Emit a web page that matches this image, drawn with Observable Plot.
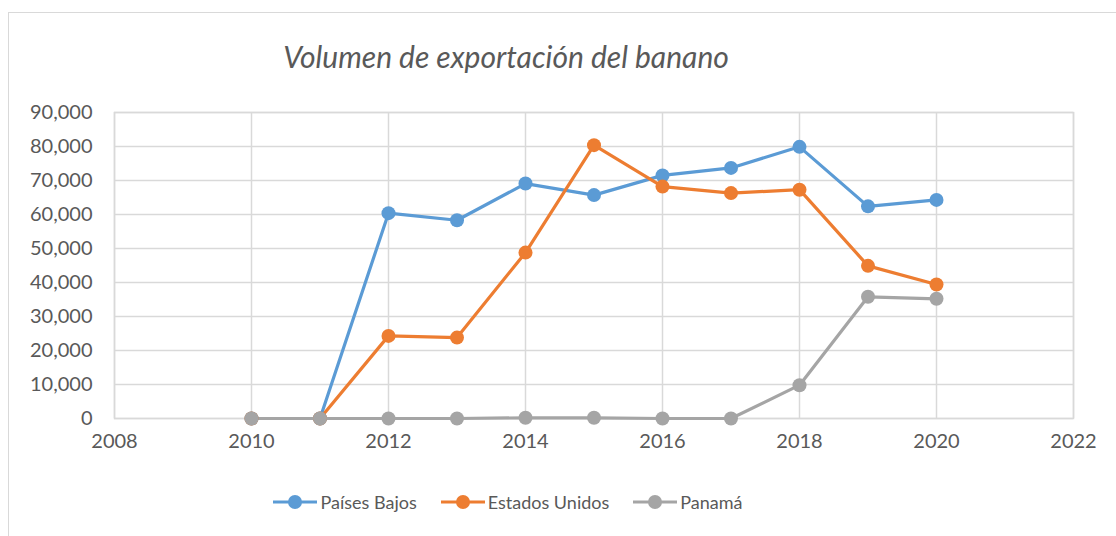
<!DOCTYPE html>
<html><head><meta charset="utf-8">
<script src="https://cdn.jsdelivr.net/npm/d3@7"></script>
<script src="https://cdn.jsdelivr.net/npm/@observablehq/plot@0.6"></script>
<style>
body{margin:0;background:#fff;font-family:Lato,"Open Sans",sans-serif;}
#wrap{position:relative;width:1116px;height:536px;overflow:hidden;}
#frame{position:absolute;left:8px;top:12px;width:1200px;height:600px;border:1px solid #d9d9d9;box-sizing:border-box;}
#title{position:absolute;left:0;width:1012px;top:38px;text-align:center;font-style:italic;font-size:30px;color:#595959;}
#chart{position:absolute;left:0;top:90px;}
#legend{position:absolute;left:0;width:1016px;top:491px;display:flex;justify-content:center;gap:24px;font-size:18px;color:#595959;}
#legend span.item{display:flex;align-items:center;gap:3px;}
</style></head>
<body><div id="wrap"><div id="frame"></div><div id="title">Volumen de exportación del banano</div><div id="chart"></div><div id="legend"></div></div>
<script>
const years = [2010, 2011, 2012, 2013, 2014, 2015, 2016, 2017, 2018, 2019, 2020];
const series = ["Países Bajos", "Estados Unidos", "Panamá"];
const paisesBajos = [0, 0, 60400, 58300, 69100, 65700, 71500, 73700, 79900, 62400, 64300];
const estadosUnidos = [0, 0, 24300, 23800, 48800, 80400, 68200, 66300, 67300, 44900, 39400];
const panama = [0, 0, 0, 0, 200, 200, 0, 0, 9800, 35800, 35200];
const colors = ["#5B9BD5", "#ED7D31", "#A5A5A5"];
const xTicks = [2008, 2010, 2012, 2014, 2016, 2018, 2020, 2022];
const yTicks = [0, 10000, 20000, 30000, 40000, 50000, 60000, 70000, 80000, 90000];

const valuesBySeries = [paisesBajos, estadosUnidos, panama];
const data = [];
series.forEach((s, i) => years.forEach((y, j) => data.push({series: s, year: y, value: valuesBySeries[i][j]})));

const chart = Plot.plot({
  width: 1116, height: 370,
  marginLeft: 114, marginRight: 43, marginTop: 22, marginBottom: 42,
  style: {fontFamily: "Lato, 'Open Sans', sans-serif", fontSize: "20px", color: "#595959", background: "transparent"},
  x: {domain: [2008, 2022], ticks: xTicks, tickFormat: "d", tickSize: 0, tickPadding: 14, label: null},
  y: {domain: [0, 90000], ticks: yTicks, tickFormat: d3.format(","), tickSize: 0, tickPadding: 22, label: null},
  color: {domain: series, range: colors},
  marks: [
    Plot.gridX(xTicks, {stroke: "#d9d9d9", strokeOpacity: 1, strokeWidth: 1.5}),
    Plot.gridY(yTicks, {stroke: "#d9d9d9", strokeOpacity: 1, strokeWidth: 1.5}),
    Plot.frame({stroke: "#d9d9d9", strokeWidth: 1.5}),
    Plot.axisX({ticks: xTicks, tickFormat: "d", tickSize: 0, tickPadding: 15, fill: "#595959"}),
    Plot.axisY({ticks: yTicks, tickFormat: d3.format(","), tickSize: 0, tickPadding: 22, fill: "#595959"}),
    Plot.line(data, {x: "year", y: "value", z: "series", stroke: "series", strokeWidth: 3.2}),
    Plot.dot(data, {x: "year", y: "value", fill: "series", r: 7})
  ]
});
document.getElementById("chart").appendChild(chart);

const legend = document.getElementById("legend");
series.forEach((s, i) => {
  const item = document.createElement("span");
  item.className = "item";
  item.innerHTML = `<svg width="44" height="16"><line x1="0" y1="8" x2="44" y2="8" stroke="${colors[i]}" stroke-width="3.2"/><circle cx="22" cy="8" r="7" fill="${colors[i]}"/></svg><span>${s}</span>`;
  legend.appendChild(item);
});
</script></body></html>
